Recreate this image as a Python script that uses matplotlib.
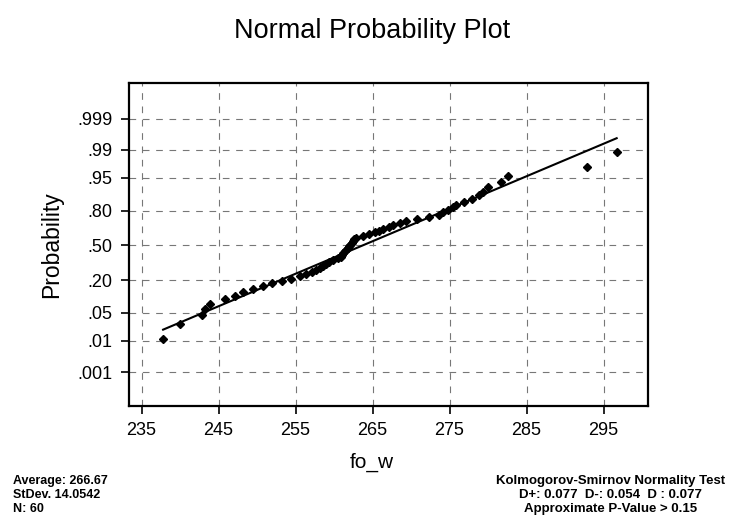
import numpy as np
import matplotlib
matplotlib.use("Agg")
import matplotlib.pyplot as plt
from statistics import NormalDist

plt.rcParams['font.family'] = ['Liberation Sans', 'DejaVu Sans']

# sorted sample values (fo_w)
fo_w = [237.8, 240.0, 242.8, 243.2, 243.9, 245.9, 247.1, 248.2, 249.5, 250.8,
        252.0, 253.2, 254.4, 255.6, 256.4, 257.1, 257.7, 258.2, 258.6, 258.9,
        259.3, 259.8, 260.5, 260.9, 261.0, 261.1, 261.4, 261.6, 261.8, 262.0,
        262.1, 262.3, 262.5, 262.6, 262.9, 263.8, 264.6, 265.3, 265.8, 266.4,
        267.1, 267.7, 268.6, 269.3, 270.8, 272.3, 273.6, 274.2, 274.8, 275.4,
        275.9, 276.9, 277.9, 278.8, 279.4, 280.0, 281.7, 282.6, 292.8, 296.7]

# fitted line parameters (as drawn)
fit_mean = 263.7
fit_sd = 12.63

prob_ticks = [0.001, 0.01, 0.05, 0.20, 0.50, 0.80, 0.95, 0.99, 0.999]
prob_labels = ['.001', '.01', '.05', '.20', '.50', '.80', '.95', '.99', '.999']
x_ticks = [235, 245, 255, 265, 275, 285, 295]

nd = NormalDist()
n = len(fo_w)
z = [nd.inv_cdf((i - 0.3) / (n + 0.4)) for i in range(1, n + 1)]

fig = plt.figure(figsize=(7.3, 5.24), dpi=100)
ax = fig.add_axes([0.177, 0.226, 0.711, 0.615])

xl = np.array([min(fo_w), max(fo_w)])
ax.plot(xl, (xl - fit_mean) / fit_sd, color='black', lw=1.5, zorder=3)
ax.plot(fo_w, z, 'D', color='black', markersize=4.5, zorder=4)

ax.set_xlim(233.4, 300.8)
ax.set_ylim(-3.90, 3.95)
ax.set_xticks(x_ticks)
ax.set_xticklabels([str(t) for t in x_ticks])
ax.set_yticks([nd.inv_cdf(p) for p in prob_ticks])
ax.set_yticklabels(prob_labels)

ax.grid(True, linestyle=(0, (6, 6)), color='#777777', lw=0.8)
ax.tick_params(direction='out', length=6, width=1.2, labelsize=13, pad=6)
for s in ax.spines.values():
    s.set_linewidth(1.6)

ax.set_xlabel('fo_w', fontsize=15)
ax.xaxis.set_label_coords(0.468, -0.145)
ax.set_ylabel('Probability', fontsize=16.5, labelpad=10)
fig.text(0.51, 0.94, 'Normal Probability Plot', ha='center', va='center', fontsize=19.5)

fig.text(0.018, 0.055, 'Average: 266.67\nStDev. 14.0542\nN: 60', ha='left', va='center',
         fontsize=9, fontweight='bold', linespacing=1.2)
fig.text(0.836, 0.055, 'Kolmogorov-Smirnov Normality Test\nD+: 0.077  D-: 0.054  D : 0.077\n'
         'Approximate P-Value > 0.15', ha='center', va='center', fontsize=9.5,
         fontweight='bold', linespacing=1.2)

fig.savefig('out.png', dpi=100)
